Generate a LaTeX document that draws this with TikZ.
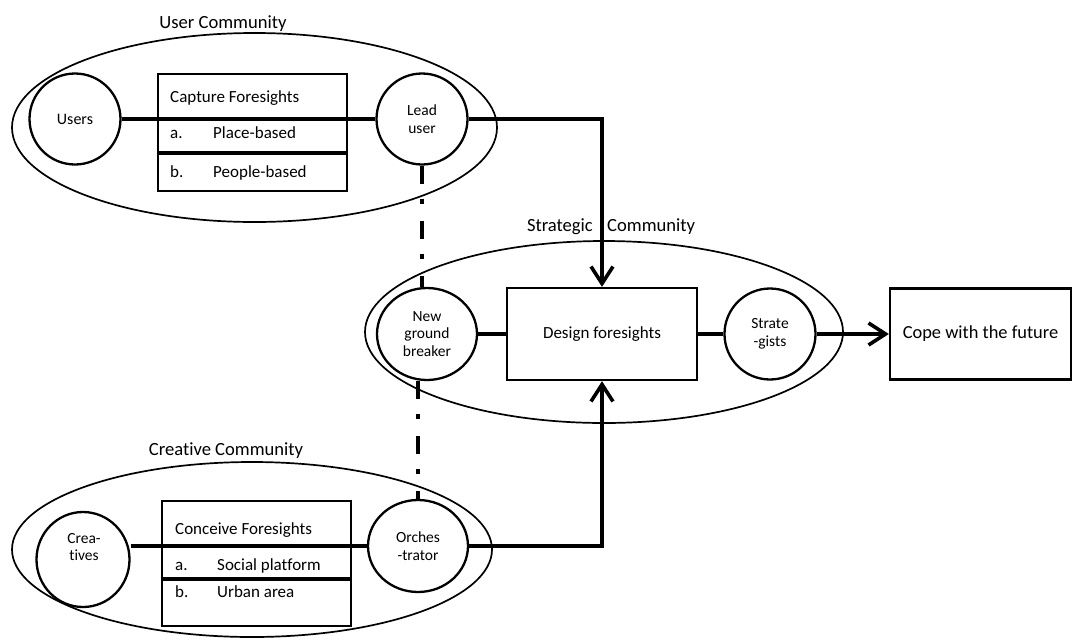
\documentclass[tikz,border=0pt]{standalone}
\usepackage{fontspec}
\setmainfont{Carlito}[Ligatures=NoCommon]
\usetikzlibrary{shapes.geometric,arrows.meta}
\begin{document}
\begin{tikzpicture}[x=1pt,y=-1pt,
  comm/.style={ellipse,draw,line width=1.7pt,inner sep=0pt},
  actor/.style={ellipse,draw,line width=2.3pt,inner sep=0pt,align=center,font=\fontsize{15.5}{17.5}\selectfont},
  ctext/.style={inner sep=0pt,align=center,font=\fontsize{15.5}{17.5}\selectfont},
  panel/.style={rectangle,draw,line width=2.3pt,inner sep=0pt,font=\fontsize{17}{20}\selectfont},
  conn/.style={line width=3.6pt},
  link/.style={line width=3.6pt,dash pattern=on 18pt off 15pt on 5pt off 17pt},
  tip/.style={-{Straight Barb[length=17pt,width=22pt]}},
  lbl/.style={font=\fontsize{18.6}{21}\selectfont,inner sep=0pt,anchor=base},
  txt/.style={font=\fontsize{17}{20}\selectfont,anchor=base west,inner sep=0pt},
]
\useasboundingbox (0,0) rectangle (1074,638);

% User community
\node[comm,minimum width=485pt,minimum height=189pt] (uc) at (254.5,127.5) {};
\node[lbl] (ucl) at (223,28) {User Community};
\node[actor,minimum size=91pt,font=\fontsize{16}{18}\selectfont] (users) at (75,119) {Users};
\node[panel,minimum width=189pt,minimum height=117pt] (capture) at (252.5,132.5) {};
\node[actor,minimum size=91pt] (lead) at (422,119) {Lead\\user};
\draw[conn] (users) -- (lead);
\coordinate (capdiv) at (0,153);
\draw[conn] (capture.west |- capdiv) -- (capture.east |- capdiv);
\node[txt] (cap0) at (170,102) {Capture Foresights};
\node[txt] (capa) at (170,138) {a.};
\node[txt] (capa2) at (213,138) {Place-based};
\node[txt] (capb) at (170,177) {b.};
\node[txt] (capb2) at (213,177) {People-based};

% Strategic community
\node[comm,minimum width=478pt,minimum height=182pt] (sc) at (604,332) {};
\node[lbl,anchor=base east] (scl1) at (593,231) {Strategic};
\node[lbl,anchor=base west] (scl2) at (607,231) {Community};
\node[actor,minimum width=100pt,minimum height=92pt] (ngb) at (427,334) {New\\ground\\breaker};
\node[panel,minimum width=190pt,minimum height=92pt] (design) at (602,334) {Design foresights};
\node[actor,minimum size=91pt] (strat) at (770,334) {Strate\\-gists};
\node[panel,minimum width=181pt,minimum height=91pt,font=\fontsize{18.4}{21}\selectfont] (cope) at (980.5,334) {Cope with the future};

% Creative community
\node[comm,minimum width=480pt,minimum height=175pt] (cc) at (252,549.5) {};
\node[lbl] (ccl) at (226,455) {Creative Community};
\node[actor,minimum width=93pt,minimum height=95pt] (crea) at (83,559.5) {};
\node[ctext] (creat) at (84,547) {Crea-\\tives};
\node[panel,minimum width=189pt,minimum height=125pt] (conceive) at (256.5,563.5) {};
\node[actor,minimum width=100pt,minimum height=92pt] (orch) at (418,546) {Orches\\-trator};
\draw[conn] (crea.east |- orch.west) -- (orch.west);
\coordinate (condiv) at (0,579);
\draw[conn] (conceive.west |- condiv) -- (conceive.east |- condiv);
\node[txt] (con0) at (175,534) {Conceive Foresights};
\node[txt] (cona) at (175,570) {a.};
\node[txt] (cona2) at (217,570) {Social platform};
\node[txt] (conb) at (175,597) {b.};
\node[txt] (conb2) at (217,597) {Urban area};

% connectors
\draw[conn,tip] (lead.east) -| (design.north);
\draw[conn,tip] (orch.east) -| (design.south);
\draw[conn] (ngb) -- (design);
\draw[conn] (design) -- (strat);
\draw[conn,tip] (strat) -- (cope);
\draw[link] (lead.south) -- (lead.south |- ngb.north);
\draw[link] (orch.north |- ngb.south) -- (orch.north);
\end{tikzpicture}
\end{document}
